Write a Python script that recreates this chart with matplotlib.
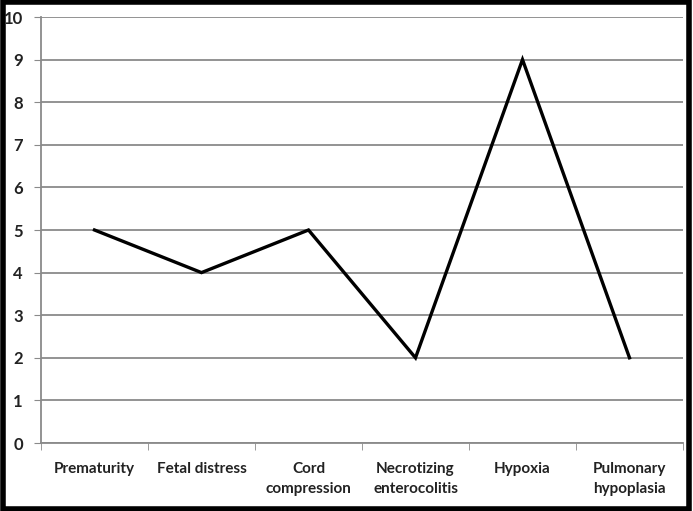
import matplotlib.pyplot as plt
import matplotlib.patches as patches
import numpy as np

categories = ["Prematurity", "Fetal distress", "Cord\ncompression",
              "Necrotizing\nenterocolitis", "Hypoxia", "Pulmonary\nhypoplasia"]
values = [5, 4, 5, 2, 9, 2]
y_ticks = list(range(0, 11))

plt.rcParams['font.family'] = ['Lato', 'DejaVu Sans']

fig = plt.figure(figsize=(6.93, 5.11), dpi=100)
ax = fig.add_axes([41 / 693, 1 - 443 / 511, 642 / 693, 426 / 511])

x = np.arange(len(categories))
ax.plot(x, values, color="black", linewidth=2.4, solid_joinstyle="miter")

ax.set_xlim(-0.5, len(categories) - 0.5)
ax.set_ylim(0, 10)
ax.set_yticks(y_ticks)
ax.yaxis.grid(True, color="#8a8a8a", linewidth=1.3)
ax.set_axisbelow(True)

# category labels between boundary ticks
ax.set_xticks(x)
ax.set_xticklabels(categories, fontsize=11, fontweight="bold", color="#222222",
                   linespacing=1.55)
ax.tick_params(axis="x", length=0, pad=14)
ax.set_xticks(np.arange(-0.5, len(categories)), minor=True)
ax.tick_params(axis="x", which="minor", length=5, color="#8a8a8a", direction="out")
ax.tick_params(axis="y", length=5, color="#8a8a8a", labelsize=12, pad=8, labelcolor="#222222")
for lab in ax.get_yticklabels():
    lab.set_fontweight("bold")

for side in ["top", "right"]:
    ax.spines[side].set_visible(False)
for side in ["left", "bottom"]:
    ax.spines[side].set_color("#8a8a8a")
    ax.spines[side].set_linewidth(1.3)

# black frame around the whole picture
frame = patches.Rectangle((2.5 / 693, 2 / 511), 1 - 5 / 693 - 2 / 693, 1 - 4 / 511,
                          transform=fig.transFigure, fill=False,
                          edgecolor="black", linewidth=4, zorder=10)
fig.patches.append(frame)

fig.savefig("out.png", dpi=100)
